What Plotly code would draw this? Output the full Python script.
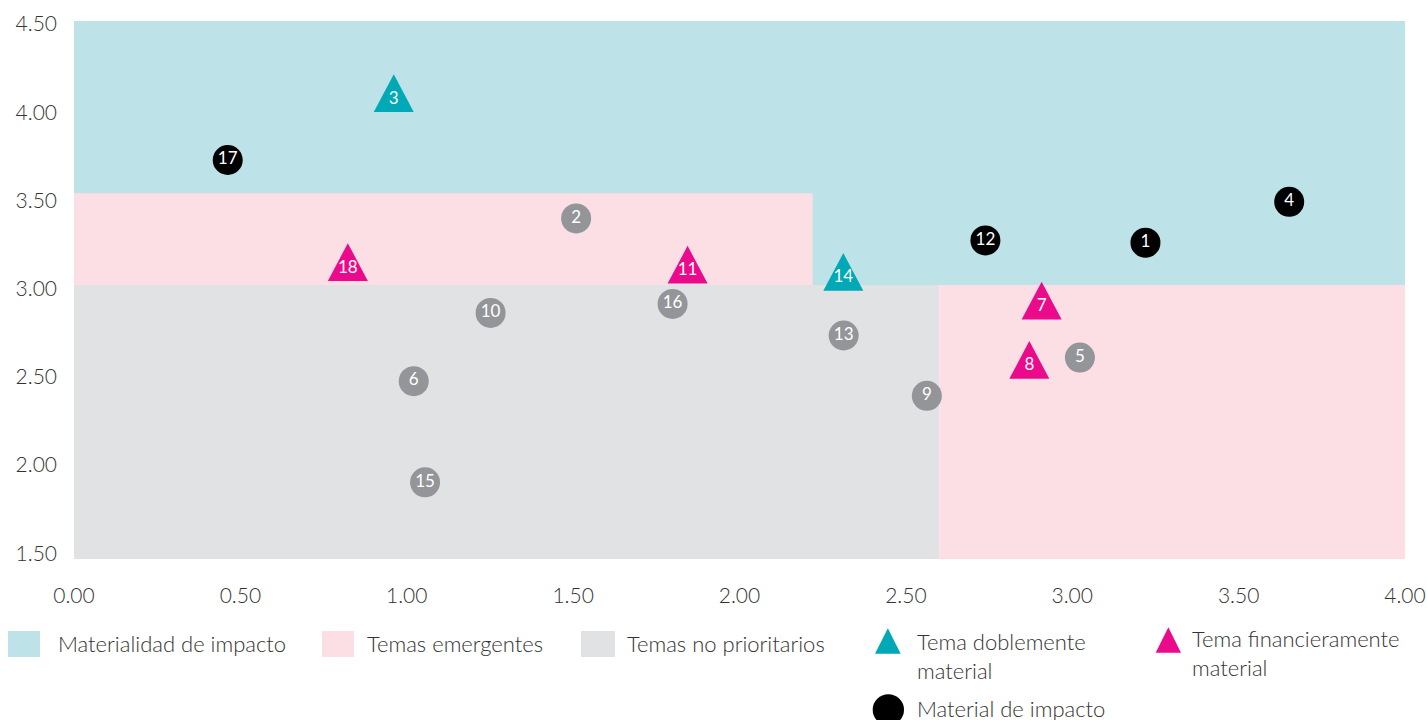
import plotly.graph_objects as go

# ---------------- data ----------------
# Material de impacto (black circles)
impact_ids = ["1", "4", "12", "17"]
impact_x = [3.220, 3.652, 2.739, 0.462]
impact_y = [3.260, 3.492, 3.273, 3.729]

# Non-material topics (grey circles)
other_ids = ["2", "5", "6", "9", "10", "13", "15", "16"]
other_x = [1.509, 3.023, 1.021, 2.563, 1.252, 2.313, 1.055, 1.799]
other_y = [3.398, 2.609, 2.475, 2.392, 2.862, 2.734, 1.902, 2.913]

# Tema doblemente material (teal triangles)
double_ids = ["3", "14"]
double_x = [0.961, 2.312]
double_y = [4.073, 3.059]

# Tema financieramente material (magenta triangles)
fin_ids = ["7", "8", "11", "18"]
fin_x = [2.908, 2.871, 1.844, 0.823]
fin_y = [2.896, 2.560, 3.100, 3.115]

# region boundaries
x_range = [0.0, 4.0]
y_range = [1.467, 4.517]
threshold_y = 3.02        # lower edge of impact materiality
emerging_top_y = 3.54     # upper edge of left emerging band
emerging_left_x = 2.22    # right edge of left emerging band
nonprior_x = 2.60         # right edge of non-priority block

x_ticks = [0.0, 0.5, 1.0, 1.5, 2.0, 2.5, 3.0, 3.5, 4.0]
y_ticks = [1.5, 2.0, 2.5, 3.0, 3.5, 4.0, 4.5]

# ---------------- styles ----------------
C_BLUE_BG = "#BDE3E8"
C_PINK_BG = "#FCDEE5"
C_GREY_BG = "#E1E2E4"
C_TEAL = "#00A9B5"
C_MAGENTA = "#EC0A8C"
C_GREY = "#939598"
C_BLACK = "#000000"
TXT = "#333333"
FONT = "Lato"

L, R, T, B = 74, 22, 21, 161
W, H = 1427, 720
PW, PH = W - L - R, H - T - B


def px(x):
    return (x - L) / PW


def py(y):
    return (H - B - y) / PH


fig = go.Figure()

shapes = []


def rect(x0, x1, y0, y1, color):
    shapes.append(dict(type="rect", xref="x", yref="y", x0=x0, x1=x1, y0=y0, y1=y1,
                       fillcolor=color, line=dict(width=0), layer="below"))


# background regions
rect(x_range[0], x_range[1], threshold_y, y_range[1], C_BLUE_BG)
rect(x_range[0], emerging_left_x, threshold_y, emerging_top_y, C_PINK_BG)
rect(x_range[0], nonprior_x, y_range[0], threshold_y, C_GREY_BG)
rect(nonprior_x, x_range[1], y_range[0], threshold_y, C_PINK_BG)

# triangles (pixel-sized, anchored at data points)
TRI_PATH = "M-20,-12.6 L20,-12.6 L0,25.1 Z"
for xs, ys, col in ((double_x, double_y, C_TEAL), (fin_x, fin_y, C_MAGENTA)):
    for xv, yv in zip(xs, ys):
        shapes.append(dict(type="path", xref="x", yref="y", xsizemode="pixel",
                           ysizemode="pixel", xanchor=xv, yanchor=yv, path=TRI_PATH,
                           fillcolor=col, line=dict(width=0), layer="below"))

label_font = dict(family=FONT, size=17, color="white")

fig.add_trace(go.Scatter(x=other_x, y=other_y, text=other_ids, mode="markers+text",
                         marker=dict(size=30, color=C_GREY, line=dict(width=0)),
                         textposition="middle center", textfont=label_font,
                         name="Otros temas", showlegend=False, hoverinfo="text"))
fig.add_trace(go.Scatter(x=impact_x, y=impact_y, text=impact_ids, mode="markers+text",
                         marker=dict(size=30, color=C_BLACK, line=dict(width=0)),
                         textposition="middle center", textfont=label_font,
                         name="Material de impacto", showlegend=False, hoverinfo="text"))
fig.add_trace(go.Scatter(x=double_x, y=double_y, text=double_ids, mode="text",
                         textposition="middle center", textfont=label_font,
                         name="Tema doblemente material", showlegend=False, hoverinfo="text"))
fig.add_trace(go.Scatter(x=fin_x, y=fin_y, text=fin_ids, mode="text",
                         textposition="middle center", textfont=label_font,
                         name="Tema financieramente material", showlegend=False, hoverinfo="text"))

# ---------------- custom legend ----------------
def legend_rect(x0, x1, color):
    shapes.append(dict(type="rect", xref="paper", yref="paper", x0=px(x0), x1=px(x1),
                       y0=py(657), y1=py(631), fillcolor=color, line=dict(width=0)))


def legend_tri(x0, x1, ytop, ybot, color):
    xm = (x0 + x1) / 2
    path = f"M{px(x0)},{py(ybot)} L{px(x1)},{py(ybot)} L{px(xm)},{py(ytop)} Z"
    shapes.append(dict(type="path", xref="paper", yref="paper", path=path,
                       fillcolor=color, line=dict(width=0)))


legend_rect(8, 40, C_BLUE_BG)
legend_rect(322, 354, C_PINK_BG)
legend_rect(581, 615, C_GREY_BG)
legend_tri(875, 900.7, 628.3, 653.7, C_TEAL)
legend_tri(1155.7, 1181, 627.3, 652.7, C_MAGENTA)
shapes.append(dict(type="circle", xref="paper", yref="paper", x0=px(872.7), x1=px(904),
                   y0=py(725.4), y1=py(694.3), fillcolor=C_BLACK, line=dict(width=0)))

leg_font = dict(family=FONT, size=22, color=TXT, weight=300)
annotations = []


def legend_text(x, y, text):
    annotations.append(dict(text=text, xref="paper", yref="paper", x=px(x), y=py(y),
                            xanchor="left", yanchor="middle", align="left",
                            showarrow=False, font=leg_font))


legend_text(56, 643, "Materialidad de impacto")
legend_text(365, 643, "Temas emergentes")
legend_text(625, 643, "Temas no prioritarios")
legend_text(915, 656, "Tema doblemente<br>material")
legend_text(1190, 653, "Tema financieramente<br>material")
legend_text(915, 708, "Material de impacto")

tick_font = dict(family=FONT, size=21, color=TXT, weight=300)

fig.update_layout(
    width=W, height=H,
    margin=dict(l=L, r=R, t=T, b=B, pad=0, autoexpand=False),
    paper_bgcolor="white", plot_bgcolor="white",
    shapes=shapes, annotations=annotations,
    showlegend=False,
    hovermode=False,
    xaxis=dict(range=x_range, tickvals=x_ticks, tickformat=".2f", showgrid=False,
               zeroline=False, showline=False, ticks="", tickfont=tick_font,
               ticklabelstandoff=22, fixedrange=True, automargin=False),
    yaxis=dict(range=y_range, tickvals=y_ticks, tickformat=".2f", showgrid=False,
               zeroline=False, showline=False, ticks="", tickfont=tick_font,
               ticklabelstandoff=16, fixedrange=True, automargin=False),
    font=dict(family=FONT, color=TXT),
)

fig.write_html(
    "out.html",
    config={"displayModeBar": False, "responsive": False},
    post_script=(
        "document.documentElement.style.margin='0';"
        "document.documentElement.style.padding='0';"
        "document.documentElement.style.overflow='hidden';"
        "document.body.style.margin='0';"
        "document.body.style.padding='0';"
        "document.body.style.overflow='hidden';"
    ),
)
